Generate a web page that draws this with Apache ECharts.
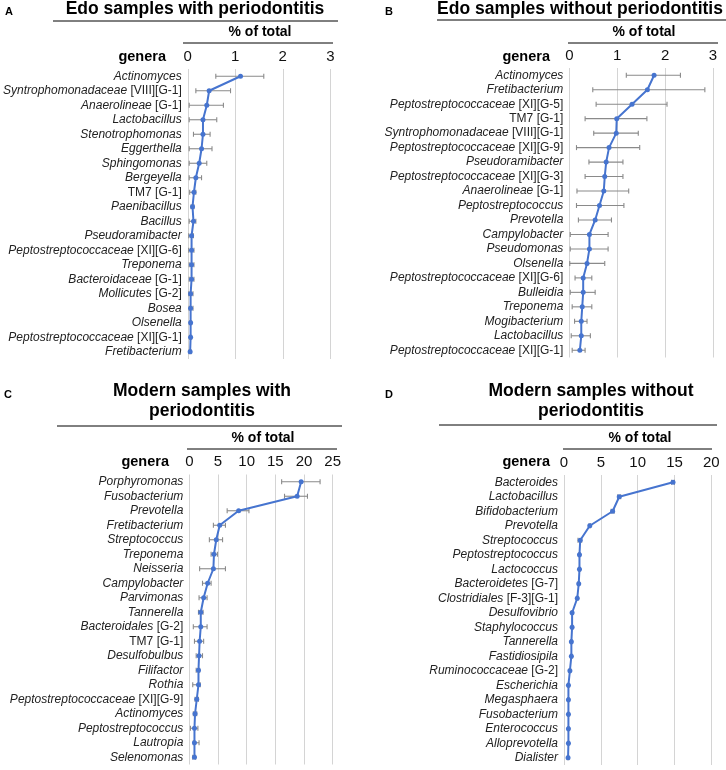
<!DOCTYPE html>
<html><head><meta charset="utf-8">
<script src="https://cdn.jsdelivr.net/npm/echarts@6/dist/echarts.min.js"></script>
<style>html,body{margin:0;padding:0;background:#fff}#c{width:726px;height:770px}</style>
</head><body><div id="c"></div>
<script>
// Panel A: Edo samples with periodontitis
const aNames = ["Actinomyces","Syntrophomonadaceae [VIII][G-1]","Anaerolineae [G-1]","Lactobacillus","Stenotrophomonas","Eggerthella","Sphingomonas","Bergeyella","TM7 [G-1]","Paenibacillus","Bacillus","Pseudoramibacter","Peptostreptococcaceae [XI][G-6]","Treponema","Bacteroidaceae [G-1]","Mollicutes [G-2]","Bosea","Olsenella","Peptostreptococcaceae [XI][G-1]","Fretibacterium"];
const aMean = [1.11,0.45,0.40,0.32,0.32,0.29,0.24,0.17,0.13,0.10,0.12,0.08,0.08,0.08,0.08,0.06,0.06,0.06,0.06,0.05];
const aLow  = [0.59,0.17,0.03,0.03,0.12,0.03,0.03,0.03,0.04,0.07,0.03,0.02,0.02,0.03,0.03,0.02,0.03,0.04,0.04,0.03];
const aHigh = [1.60,0.90,0.75,0.61,0.47,0.51,0.40,0.29,0.17,0.13,0.17,0.12,0.13,0.13,0.13,0.11,0.11,0.08,0.08,0.07];

// Panel B: Edo samples without periodontitis
const bNames = ["Actinomyces","Fretibacterium","Peptostreptococcaceae [XI][G-5]","TM7 [G-1]","Syntrophomonadaceae [VIII][G-1]","Peptostreptococcaceae [XI][G-9]","Pseudoramibacter","Peptostreptococcaceae [XI][G-3]","Anaerolineae [G-1]","Peptostreptococcus","Prevotella","Campylobacter","Pseudomonas","Olsenella","Peptostreptococcaceae [XI][G-6]","Bulleidia","Treponema","Mogibacterium","Lactobacillus","Peptostreptococcaceae [XI][G-1]"];
const bMean = [1.77,1.63,1.31,0.99,0.98,0.83,0.77,0.74,0.72,0.63,0.54,0.42,0.42,0.37,0.29,0.29,0.27,0.25,0.25,0.22];
const bLow  = [1.19,0.49,0.56,0.33,0.51,0.15,0.41,0.33,0.16,0.15,0.19,0.02,0.02,0.01,0.12,0.02,0.06,0.11,0.04,0.06];
const bHigh = [2.32,2.83,2.04,1.62,1.44,1.47,1.12,1.12,1.24,1.14,0.88,0.81,0.81,0.74,0.47,0.54,0.47,0.37,0.44,0.33];

// Panel C: Modern samples with periodontitis
const cNames = ["Porphyromonas","Fusobacterium","Prevotella","Fretibacterium","Streptococcus","Treponema","Neisseria","Campylobacter","Parvimonas","Tannerella","Bacteroidales [G-2]","TM7 [G-1]","Desulfobulbus","Filifactor","Rothia","Peptostreptococcaceae [XI][G-9]","Actinomyces","Peptostreptococcus","Lautropia","Selenomonas"];
const cMean = [19.5,18.8,8.6,5.3,4.7,4.3,4.2,3.2,2.5,2.0,2.0,1.8,1.7,1.6,1.6,1.3,1.0,0.9,0.9,0.9];
const cLow  = [16.1,16.6,6.6,4.2,3.5,3.8,1.8,2.3,1.7,1.6,0.7,0.9,1.2,1.2,0.6,1.0,0.7,0.2,0.7,0.6];
const cHigh = [22.8,20.6,10.4,6.3,5.8,4.9,6.3,3.8,3.1,2.4,3.1,2.5,2.3,1.8,1.9,1.6,1.3,1.5,1.7,1.1];

// Panel D: Modern samples without periodontitis
const dNames = ["Bacteroides","Lactobacillus","Bifidobacterium","Prevotella","Streptococcus","Peptostreptococcus","Lactococcus","Bacteroidetes [G-7]","Clostridiales [F-3][G-1]","Desulfovibrio","Staphylococcus","Tannerella","Fastidiosipila","Ruminococcaceae [G-2]","Escherichia","Megasphaera","Fusobacterium","Enterococcus","Alloprevotella","Dialister"];
const dMean = [14.8,7.5,6.6,3.5,2.2,2.1,2.1,2.0,1.8,1.1,1.1,1.0,1.0,0.8,0.6,0.6,0.6,0.6,0.6,0.55];
const dLow  = [14.6,7.3,6.4,3.4,1.9,2.0,2.0,1.9,1.7,1.0,1.0,0.9,0.9,0.7,0.5,0.5,0.5,0.5,0.5,0.45];
const dHigh = [15.0,7.7,6.8,3.6,2.4,2.2,2.2,2.1,1.9,1.2,1.2,1.1,1.1,0.9,0.7,0.7,0.7,0.7,0.7,0.65];

const xMaxA = 3, xIntA = 1;
const xMaxB = 3, xIntB = 1;
const xMaxC = 25, xIntC = 5;
const xMaxD = 20, xIntD = 5;

const FONT = "Liberation Sans, Arial, Helvetica, sans-serif";
const BLUE = "#4674CF";
const GREY = "#8a8a8a";

function labelFmt(name) {
  if (/^TM7/.test(name)) return '{n|' + name + '}';
  const m = name.match(/^(\S+)( \[.*)$/);
  if (m) return '{i|' + m[1] + '}{n|' + m[2] + '}';
  return '{i|' + name + '}';
}

const panels = [
  {names:aNames, mean:aMean, low:aLow, high:aHigh, max:xMaxA, int:xIntA, grid:{left:187, top:69, width:143.3, height:290}},
  {names:bNames, mean:bMean, low:bLow, high:bHigh, max:xMaxB, int:xIntB, grid:{left:569.3, top:68, width:143.7, height:289.5}},
  {names:cNames, mean:cMean, low:cLow, high:cHigh, max:xMaxC, int:xIntC, grid:{left:189.3, top:474.5, width:143.4, height:290}},
  {names:dNames, mean:dMean, low:dLow, high:dHigh, max:xMaxD, int:xIntD, grid:{left:564, top:475, width:147.3, height:290}}
];

const grid = [], xAxis = [], yAxis = [], series = [];
panels.forEach((p, k) => {
  grid.push(Object.assign({containLabel:false}, p.grid));
  xAxis.push({
    type:'value', gridIndex:k, position:'top', min:0, max:p.max, interval:p.int,
    axisLine:{show:false}, axisTick:{show:false},
    axisLabel:{fontFamily:FONT, fontSize:15, color:'#111', margin:5},
    splitLine:{show:true, lineStyle:{color:'#d4d4d4', width:1}}
  });
  yAxis.push({
    type:'category', gridIndex:k, data:p.names, inverse:true,
    axisLine:{show:false}, axisTick:{show:false}, splitLine:{show:false},
    axisLabel:{
      interval:0, margin:6, formatter:labelFmt,
      rich:{
        i:{fontFamily:FONT, fontSize:12, fontStyle:'italic', color:'#222'},
        n:{fontFamily:FONT, fontSize:12, color:'#222'}
      }
    }
  });
  series.push({
    type:'custom', xAxisIndex:k, yAxisIndex:k, z:2,
    encode:{x:[0,1], y:2},
    data:p.names.map((n,i) => [p.low[i], p.high[i], i]),
    renderItem:function(params, api){
      const a = api.coord([api.value(0), api.value(2)]);
      const b = api.coord([api.value(1), api.value(2)]);
      const h = 2.5;
      const st = {stroke:GREY, lineWidth:1.1};
      return {type:'group', children:[
        {type:'line', shape:{x1:a[0], y1:a[1], x2:b[0], y2:b[1]}, style:st},
        {type:'line', shape:{x1:a[0], y1:a[1]-h, x2:a[0], y2:a[1]+h}, style:st},
        {type:'line', shape:{x1:b[0], y1:b[1]-h, x2:b[0], y2:b[1]+h}, style:st}
      ]};
    }
  });
  series.push({
    type:'line', xAxisIndex:k, yAxisIndex:k, z:3,
    data:p.mean.map((v,i) => [v, p.names[i]]),
    symbol:'circle', symbolSize:5, showSymbol:true,
    lineStyle:{color:BLUE, width:2}, itemStyle:{color:BLUE},
    animation:false
  });
});

function txt(x, y, text, size, weight, align) {
  return {type:'text', x:x, y:y, style:{text:text, fontFamily:FONT, fontSize:size, fontWeight:weight||'normal', fill:'#000', align:align||'center', verticalAlign:'middle'}};
}
function hline(x1, x2, y) {
  return {type:'line', shape:{x1:x1, y1:y, x2:x2, y2:y}, style:{stroke:'#000', lineWidth:1}};
}

const graphic = [
  txt(5, 12, 'A', 11, 'bold', 'left'),
  txt(195, 9, 'Edo samples with periodontitis', 17.5, 'bold'),
  hline(53, 338, 21),
  txt(260, 32, '% of total', 14, 'bold'),
  hline(183, 333, 43),
  txt(166, 57, 'genera', 14.5, 'bold', 'right'),

  txt(385, 12, 'B', 11, 'bold', 'left'),
  txt(580, 9, 'Edo samples without periodontitis', 17.5, 'bold'),
  hline(437, 726, 20),
  txt(644, 32, '% of total', 14, 'bold'),
  hline(568, 718, 43),
  txt(550, 57, 'genera', 14.5, 'bold', 'right'),

  txt(4, 395, 'C', 11, 'bold', 'left'),
  txt(202, 391, 'Modern samples with', 17.5, 'bold'),
  txt(202, 411, 'periodontitis', 17.5, 'bold'),
  hline(57, 342, 426),
  txt(263, 438, '% of total', 14, 'bold'),
  hline(187, 337, 449),
  txt(169, 462, 'genera', 14.5, 'bold', 'right'),

  txt(385, 395, 'D', 11, 'bold', 'left'),
  txt(591, 391, 'Modern samples without', 17.5, 'bold'),
  txt(591, 411, 'periodontitis', 17.5, 'bold'),
  hline(439, 717, 425),
  txt(640, 438, '% of total', 14, 'bold'),
  hline(563, 712, 449),
  txt(550, 462, 'genera', 14.5, 'bold', 'right')
];

const chart = echarts.init(document.getElementById('c'), null, {renderer:'canvas'});
chart.setOption({backgroundColor:'#fff', animation:false, grid, xAxis, yAxis, series, graphic});
</script>
</body></html>
